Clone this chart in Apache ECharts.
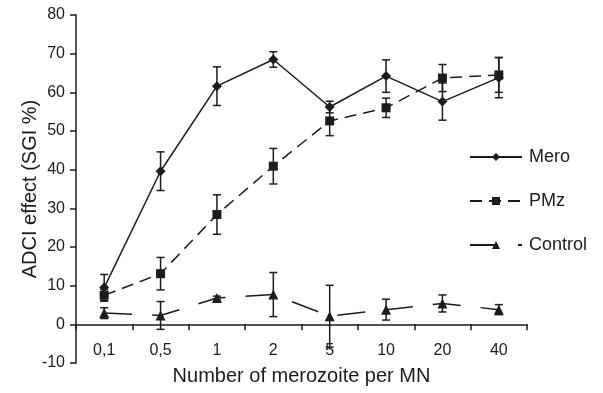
<!DOCTYPE html>
<html>
<head>
<meta charset="utf-8">
<script src="https://cdn.jsdelivr.net/npm/echarts@6.0.0/dist/echarts.min.js"></script>
<style>
  html, body { margin: 0; padding: 0; background: #fff; }
  #chart { width: 603px; height: 393px; }
</style>
</head>
<body>
<div id="chart"></div>
<script>
// merozoite dose per MN (category labels)
const categories = ["0,1", "0,5", "1", "2", "5", "10", "20", "40"];

// mean ADCI effect (SGI %) and error bar half-widths
const meroMean = [9.5, 39.6, 61.6, 68.5, 56.2, 64.2, 57.6, 63.8];
const meroErr = [3.4, 5.0, 5.0, 2.0, 1.5, 4.2, 4.8, 5.2];
const pmzMean = [7.5, 13.1, 28.4, 40.9, 52.6, 56.0, 63.7, 64.5];
const pmzErr = [1.5, 4.2, 5.1, 4.6, 3.8, 2.5, 3.5, 4.5];
const ctrlMean = [2.9, 2.3, 6.8, 7.7, 2.1, 3.8, 5.4, 3.8];
const ctrlErr = [1.4, 3.6, 0.5, 5.7, 8.0, 2.7, 2.2, 1.3];

const INK = "#1c1c1c";
const FONT = "Liberation Sans, Arial, sans-serif";

const chart = echarts.init(document.getElementById("chart"));

// [index, low, high] triples for the custom error bar series
function errData(mean, err) {
  return mean.map((m, i) => [i, m - err[i], m + err[i]]);
}

function renderErr(params, api) {
  const x = api.value(0);
  const top = api.coord([x, api.value(2)]);
  const bot = api.coord([x, api.value(1)]);
  const cap = 4;
  const style = { stroke: INK, lineWidth: 1.5 };
  return {
    type: "group",
    children: [
      { type: "line", shape: { x1: top[0], y1: top[1], x2: bot[0], y2: bot[1] }, style },
      { type: "line", shape: { x1: top[0] - cap, y1: top[1], x2: top[0] + cap, y2: top[1] }, style },
      { type: "line", shape: { x1: bot[0] - cap, y1: bot[1], x2: bot[0] + cap, y2: bot[1] }, style },
    ],
  };
}

function errSeries(mean, err) {
  return {
    type: "custom",
    renderItem: renderErr,
    data: errData(mean, err),
    encode: { x: 0, y: [1, 2] },
    silent: true,
    z: 1,
  };
}

function lineSeries(name, data, symbol, size, dash) {
  return {
    name,
    type: "line",
    data,
    symbol,
    symbolSize: size,
    showAllSymbol: true,
    lineStyle: { color: INK, width: 1.5, type: dash },
    itemStyle: { color: INK },
    z: 3,
  };
}

const option = {
  animation: false,
  textStyle: { fontFamily: FONT },
  grid: { left: 76, right: 76, top: 15, bottom: 30, outerBoundsMode: "none", containLabel: false },
  legend: {
    orient: "vertical",
    left: 464,
    top: 143,
    itemWidth: 52,
    itemHeight: 10,
    itemGap: 26,
    textStyle: { fontFamily: FONT, fontSize: 18, color: INK, padding: [0, 0, 0, 2] },
    data: ["Mero", "PMz", "Control"],
  },
  xAxis: {
    type: "category",
    data: categories,
    boundaryGap: true,
    name: "Number of merozoite per MN",
    nameLocation: "middle",
    nameGap: 3,
    nameMoveOverlap: false,
    nameTextStyle: { fontFamily: FONT, fontSize: 20, color: INK },
    axisLine: { onZero: true, lineStyle: { color: INK, width: 1.5 } },
    axisTick: { show: true, inside: false, length: 6, alignWithLabel: false, lineStyle: { color: INK, width: 1.5 } },
    axisLabel: { fontFamily: FONT, fontSize: 16, color: INK, margin: -20 },
    splitLine: { show: false },
  },
  yAxis: {
    type: "value",
    min: -10,
    max: 80,
    interval: 10,
    name: "ADCI effect (SGI %)",
    nameLocation: "middle",
    nameGap: 36,
    nameMoveOverlap: false,
    nameTextStyle: { fontFamily: FONT, fontSize: 20, color: INK },
    axisLine: { show: true, onZero: false, lineStyle: { color: INK, width: 1.5 } },
    axisTick: { show: true, inside: false, length: 6, lineStyle: { color: INK, width: 1.5 } },
    axisLabel: { fontFamily: FONT, fontSize: 16, color: INK, margin: 11 },
    splitLine: { show: false },
  },
  series: [
    errSeries(meroMean, meroErr),
    errSeries(pmzMean, pmzErr),
    errSeries(ctrlMean, ctrlErr),
    lineSeries("Mero", meroMean, "diamond", 10, "solid"),
    lineSeries("PMz", pmzMean, "rect", 9, [12, 7]),
    lineSeries("Control", ctrlMean, "triangle", 10, [28, 20]),
  ],
};

chart.setOption(option);
</script>
</body>
</html>
